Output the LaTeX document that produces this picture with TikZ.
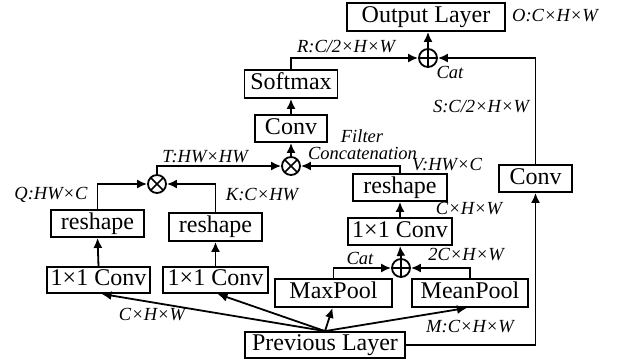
\documentclass[tikz,border=0pt]{standalone}
\usepackage{fontspec}
\setmainfont{Liberation Serif}
\usetikzlibrary{arrows.meta}
\begin{document}
\begin{tikzpicture}[x=1pt,y=-1pt,
 box/.style={draw, line width=1.8pt, inner sep=0pt, text height=16pt, text depth=5pt,
   font=\fontsize{24}{24}\selectfont},
 op/.style={draw, circle, line width=1.8pt, minimum size=18pt, inner sep=0pt},
 oplus/.style={op, path picture={\draw[line width=1.5pt]
   (path picture bounding box.north) -- (path picture bounding box.south)
   (path picture bounding box.west) -- (path picture bounding box.east);}},
 otimes/.style={op, path picture={\draw[line width=1.5pt]
   (path picture bounding box.north west) -- (path picture bounding box.south east)
   (path picture bounding box.north east) -- (path picture bounding box.south west);}},
 lbl/.style={font=\fontsize{18.5}{20}\selectfont\itshape, inner sep=0pt},
 arr/.style={line width=1.8pt, -{Latex[length=10pt,width=9pt]}},
]
\useasboundingbox (0,0) rectangle (619,362);

% boxes
\node[box, minimum width=158pt, minimum height=28pt] (out) at (426,17) {Output Layer};
\node[box, minimum width=93pt, minimum height=28pt] (soft) at (291,84) {Softmax};
\node[box, minimum width=72pt, minimum height=27pt] (mconv) at (291,128.5) {Conv};
\node[box, minimum width=93pt, minimum height=27pt] (qres) at (97.5,223.5) {reshape};
\node[box, minimum width=93pt, minimum height=28pt] (kres) at (215.5,227) {reshape};
\node[box, minimum width=103pt, minimum height=26pt] (qconv) at (98.5,280) {1×1 Conv};
\node[box, minimum width=105pt, minimum height=26pt] (kconv) at (215.5,280) {1×1 Conv};
\node[box, minimum width=94pt, minimum height=27pt] (vres) at (400,187.5) {reshape};
\node[box, minimum width=104pt, minimum height=27pt] (vconv) at (400,231.5) {1×1 Conv};
\node[box, minimum width=117pt, minimum height=28pt] (maxp) at (333.5,293) {MaxPool};
\node[box, minimum width=116pt, minimum height=28pt] (meanp) at (470,293) {MeanPool};
\node[box, minimum width=73pt, minimum height=27pt] (rconv) at (535.5,178.5) {Conv};
\node[box, minimum width=160pt, minimum height=26pt] (prev) at (325,345) {Previous Layer};

% operators
\node[oplus] (cattop) at (428,58) {};
\node[otimes] (mul) at (291,166) {};
\node[otimes] (mulL) at (157,184) {};
\node[oplus] (catbot) at (401,268) {};

% connectors
\draw[arr] (soft.north) |- (cattop.west);
\draw[arr] (rconv.north) |- (cattop.east);
\draw[arr] (cattop.north) -- (cattop.north |- out.south);
\draw[arr] (mconv.north) -- (soft.south);
\draw[arr] (mul.north) -- (mconv.south);
\draw[arr] (mulL.north) |- (mul.west);
\draw[arr] (vres.north) |- (mul.east);
\draw[arr] (qres.north) |- (mulL.west);
\draw[arr] (kres.north) |- (mulL.east);
\draw[arr] (qconv.north) -- (qres.south);
\draw[arr] (kconv.north) -- (kres.south);
\draw[arr] (vconv.north) -- (vres.south);
\draw[arr] (catbot.north) -- (vconv.south);
\draw[arr] (maxp.north) |- (catbot.west);
\draw[arr] (meanp.north) |- (catbot.east);
\draw[arr] (prev.north) -- ([xshift=3pt]qconv.south);
\draw[arr] (prev.north) -- ([xshift=2pt]kconv.south);
\draw[arr] (prev.north) -- ([xshift=-1pt]maxp.south);
\draw[arr] (prev.north) -- ([xshift=-3pt]meanp.south);
\draw[arr] (prev.east) -| (rconv.south);

% labels
\node[lbl, anchor=west] (lo) at (512,16) {O:C×H×W};
\node[lbl] (lr) at (346,47) {R:C/2×H×W};
\node[lbl] (lcat1) at (450,72) {Cat};
\node[lbl] (ls) at (481,107) {S:C/2×H×W};
\node[lbl] (lf1) at (362,136) {Filter};
\node[lbl] (lf2) at (362.5,153) {Concatenation};
\node[lbl] (lt) at (205,157) {T:HW×HW};
\node[lbl] (lv) at (447,165) {V:HW×C};
\node[lbl] (lq) at (51,195) {Q:HW×C};
\node[lbl] (lk) at (262,195) {K:C×HW};
\node[lbl] (lc1) at (469,209) {C×H×W};
\node[lbl] (lcat2) at (360,258) {Cat};
\node[lbl] (l2c) at (466,255) {2C×H×W};
\node[lbl] (lc2) at (152,315) {C×H×W};
\node[lbl] (lm) at (470,327) {M:C×H×W};
\end{tikzpicture}
\end{document}
